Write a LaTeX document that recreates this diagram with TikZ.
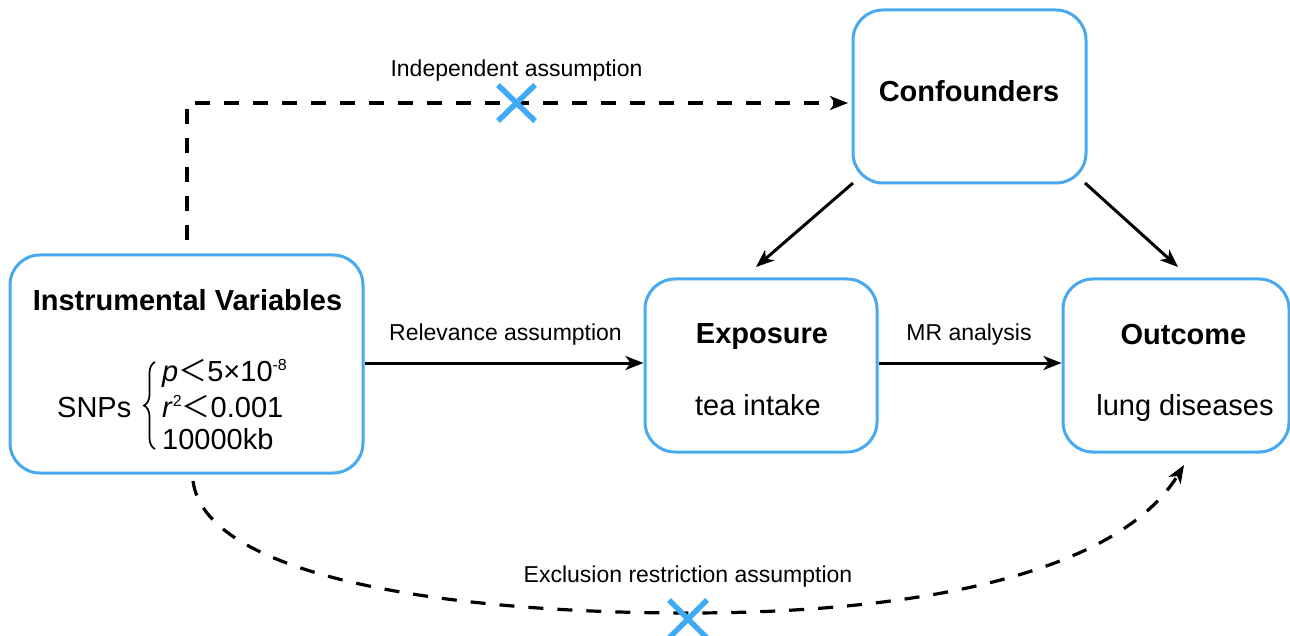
\documentclass[tikz,border=0pt]{standalone}
\usepackage{fontspec}
\setmainfont{Liberation Sans}
\newfontfamily\cjkfont{Noto Sans CJK SC}
\usetikzlibrary{arrows.meta,decorations.pathreplacing}

\definecolor{boxblue}{RGB}{72,168,240}
\definecolor{crossblue}{RGB}{64,170,245}

\tikzset{
  box/.style={draw=boxblue, line width=3pt, rounded corners=30pt, fill=white},
  title/.style={font=\fontsize{29}{34}\selectfont\bfseries, anchor=base, inner sep=0pt},
  body/.style={font=\fontsize{29}{34}\selectfont, anchor=base, inner sep=0pt},
  snp/.style={font=\fontsize{29}{34}\selectfont, anchor=base west, inner sep=0pt},
  lbl/.style={font=\fontsize{23}{27}\selectfont, anchor=base, inner sep=0pt},
  arr/.style={line width=3pt, -{Stealth[length=18pt,width=14pt,inset=5pt]}},
  darr/.style={line width=3.2pt, dash pattern=on 15pt off 14pt, -{Stealth[length=18pt,width=14pt,inset=5pt]}},
  nix/.style={draw=crossblue, line width=5.5pt},
}
\newcommand{\lessw}{{\cjkfont ＜}}
\newcommand{\supsm}[1]{\raisebox{11pt}{\fontsize{16}{18}\selectfont #1}}

\begin{document}
\begin{tikzpicture}[x=1pt,y=-1pt]
\useasboundingbox (0,0) rectangle (1290,636);
\clip (0,0) rectangle (1290,636);

% boxes
\node[box, minimum width=353pt, minimum height=218pt] (IV) at (186.5,364) {};
\node[box, minimum width=232pt, minimum height=173pt] (Exp) at (761,365.5) {};
\node[box, minimum width=226pt, minimum height=173pt] (Out) at (1176,365.5) {};
\node[box, minimum width=233pt, minimum height=173pt] (Conf) at (969.5,96.5) {};

% box texts
\node[title] (ivt) at (187.5,310) {Instrumental Variables};
\node[snp] (snps) at (57,417) {SNPs};
\node[snp] (cp) at (162,381) {\textit{p}\lessw 5×10\supsm{-8}};
\node[snp] (cr) at (162,417) {\textit{r}\supsm{2}\lessw 0.001};
\node[snp] (ckb) at (162,449) {10000kb};
\coordinate (brb) at (155,449);
\coordinate (brt) at (155,362);
\draw[line width=1.7pt, decorate, decoration={brace, amplitude=11pt, aspect=0.5}] (brb) -- (brt);

\node[title] (expt) at (762,343) {Exposure};
\node[body] (expb) at (758,415) {tea intake};
\node[title] (outt) at (1183.5,344) {Outcome};
\node[body] (outb) at (1185,415) {lung diseases};
\node[title] (conft) at (969,102) {Confounders};

% solid connectors
\draw[arr] (IV.east |- 0,363) -- (Exp.west |- 0,363);
\draw[arr] (Exp.east |- 0,363) -- (Out.west |- 0,363);
\node[lbl] (rel) at (505.5,340) {Relevance assumption};
\node[lbl] (mr) at (969,340) {MR analysis};

\coordinate (cl1) at (853,183);
\coordinate (cl2) at (756,267);
\coordinate (cr1) at (1085,183);
\coordinate (cr2) at (1178,267);
\draw[arr] (cl1) -- (cl2);
\draw[arr] (cr1) -- (cr2);

% independence assumption (dashed, crossed out)
\coordinate (ia) at (187,240);
\coordinate (ib) at (187,103);
\coordinate (ic) at (848,103);
\draw[darr] (ia) -- (ib) -- (ic);
\node[lbl] (ind) at (516.5,77) {Independent assumption};
\draw[nix] (498,85) -- (535,121);
\draw[nix] (535,85) -- (498,121);

% exclusion restriction assumption (dashed curve, crossed out)
\coordinate (ea) at (193,481);
\coordinate (em) at (688,613);
\coordinate (eb) at (1184,465);
\draw[darr] (ea) .. controls (205,575) and (440,613) .. (em)
                 .. controls (930,613) and (1120,570) .. (eb);
\node[lbl] (exc) at (688,582) {Exclusion restriction assumption};
\draw[nix] (669,600) -- (707,638);
\draw[nix] (707,600) -- (669,638);
\end{tikzpicture}
\end{document}
